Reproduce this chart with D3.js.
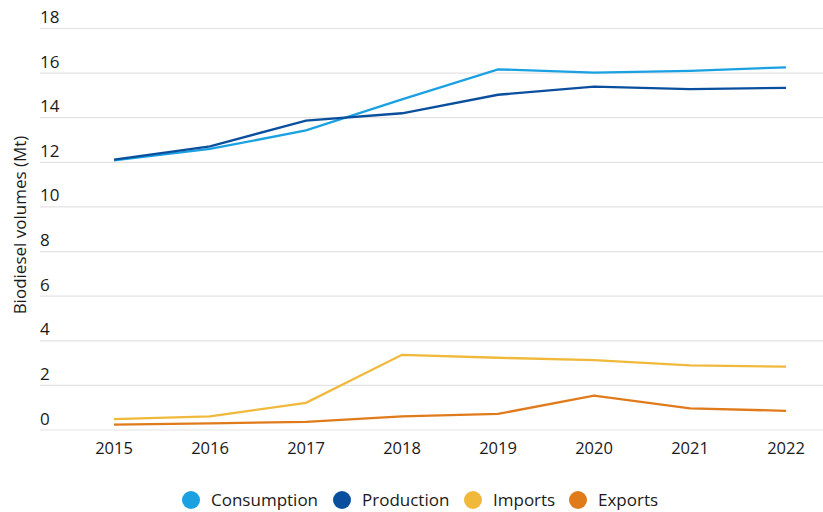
<!DOCTYPE html>
<html><head><meta charset="utf-8">
<script src="https://cdn.jsdelivr.net/npm/d3@7"></script>
<style>body{margin:0;background:#fff;} svg{display:block;font-family:"Open Sans","Noto Sans",sans-serif;}</style>
</head><body>
<svg id="c" width="823" height="512"></svg>
<script>
const years = [2015, 2016, 2017, 2018, 2019, 2020, 2021, 2022];
const consumption = [12.09, 12.6, 13.43, 14.82, 16.17, 16.02, 16.1, 16.26];
const production = [12.12, 12.72, 13.87, 14.2, 15.03, 15.39, 15.28, 15.34];
const imports = [0.49, 0.61, 1.22, 3.37, 3.24, 3.13, 2.9, 2.84];
const exportsV = [0.24, 0.30, 0.36, 0.61, 0.72, 1.54, 0.97, 0.86];
const yTicks = [0, 2, 4, 6, 8, 10, 12, 14, 16, 18];
const seriesNames = ["Consumption", "Production", "Imports", "Exports"];
const colors = ["#1ba1e2", "#0a4f9e", "#f0b93c", "#e07b1c"];
const seriesData = [consumption, production, imports, exportsV];

const svg = d3.select("#c");
const x = d3.scaleLinear().domain([2015, 2022]).range([114, 786]);
const y = d3.scaleLinear().domain([0, 18]).range([430, 28.5]);

svg.append("g").selectAll("line").data(yTicks).join("line")
  .attr("x1", 40).attr("x2", 823)
  .attr("y1", d => y(d)).attr("y2", d => y(d))
  .attr("stroke", "#e3e3e3").attr("stroke-width", 1.2);
svg.append("g").selectAll("text").data(yTicks).join("text")
  .attr("x", 40).attr("y", d => y(d) - 5.5)
  .attr("font-size", 17).attr("fill", "#1a1a1a")
  .text(d => d);
svg.append("g").selectAll("text").data(years).join("text")
  .attr("x", d => x(d)).attr("y", 454)
  .attr("text-anchor", "middle").attr("font-size", 16.5).attr("fill", "#1a1a1a")
  .text(d => d);
svg.append("text")
  .attr("transform", "translate(26,225) rotate(-90)")
  .attr("text-anchor", "middle").attr("font-size", 17).attr("fill", "#1a1a1a")
  .text("Biodiesel volumes (Mt)");

const line = d3.line().x((d, i) => x(years[i])).y(d => y(d));
svg.append("g").selectAll("path").data(seriesData).join("path")
  .attr("d", d => line(d)).attr("fill", "none")
  .attr("stroke", (d, i) => colors[i]).attr("stroke-width", 2.3);

const legX = [191, 342, 473, 578];
const lg = svg.append("g").selectAll("g").data(seriesNames).join("g")
  .attr("transform", (d, i) => `translate(${legX[i]},500)`);
lg.append("circle").attr("r", 9).attr("fill", (d, i) => colors[i]);
lg.append("text").attr("x", 20).attr("y", 6).attr("font-size", 17).attr("fill", "#1a1a1a").text(d => d);
</script>
</body></html>
